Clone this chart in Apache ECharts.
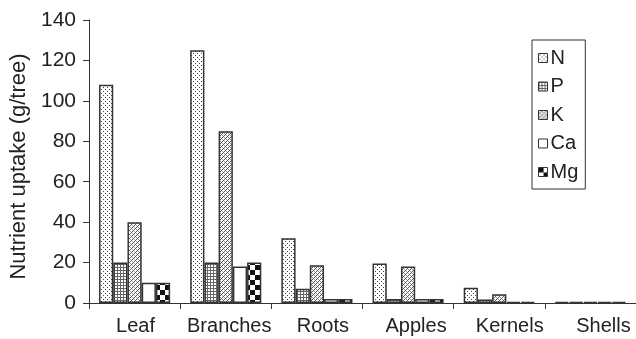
<!DOCTYPE html>
<html>
<head>
<meta charset="utf-8">
<script src="https://cdn.jsdelivr.net/npm/echarts@6/dist/echarts.min.js"></script>
<style>
  html, body { margin: 0; padding: 0; background: #fff; }
  #chart { width: 636px; height: 339px; }
</style>
</head>
<body>
<div id="chart"></div>
<script>
// Nutrient uptake per tree, by organ
const categories = ['Leaf', 'Branches', 'Roots', 'Apples', 'Kernels', 'Shells'];
const nutrients = ['N', 'P', 'K', 'Ca', 'Mg'];
const valuesN  = [108, 125, 32, 19.5, 7.6, 0.5];
const valuesP  = [20, 20, 7, 2, 1.7, 0.5];
const valuesK  = [40, 85, 18.7, 18, 4.3, 0.5];
const valuesCa = [10, 18, 2, 2, 0.5, 0.5];
const valuesMg = [10, 20, 2, 2, 0.5, 0.5];
const yTicks = [0, 20, 40, 60, 80, 100, 120, 140];

// Monochrome fill patterns drawn on small tiles
function tile(w, h, draw) {
  const c = document.createElement('canvas');
  c.width = w; c.height = h;
  const g = c.getContext('2d');
  g.fillStyle = '#fff';
  g.fillRect(0, 0, w, h);
  draw(g);
  return { image: c, repeat: 'repeat' };
}
const fillN = tile(4, 4, g => {
  g.fillStyle = '#444';
  g.fillRect(1, 1, 1, 1);
  g.fillRect(3, 3, 1, 1);
});
const fillP = tile(3, 3, g => {
  g.fillStyle = '#666';
  g.fillRect(0, 0, 3, 1);
  g.fillRect(0, 0, 1, 3);
});
const fillK = tile(4, 4, g => {
  g.fillStyle = '#555';
  for (let i = 0; i < 4; i++) {
    g.fillRect(i, 3 - i, 1, 1);
  }
  g.fillStyle = '#999';
  g.fillRect(0, 1, 1, 1);
  g.fillRect(2, 3, 1, 1);
});
const fillCa = '#ffffff';
const fillMg = tile(10, 10, g => {
  g.fillStyle = '#111';
  g.fillRect(0, 0, 5, 5);
  g.fillRect(5, 5, 5, 5);
});

const seriesData = [valuesN, valuesP, valuesK, valuesCa, valuesMg];
const fills = [fillN, fillP, fillK, fillCa, fillMg];

const chart = echarts.init(document.getElementById('chart'), null, { renderer: 'canvas' });
const font = 'Liberation Sans, Arial, sans-serif';

// Category labels sit on a slightly wider pitch than the ticks;
// each one is nudged right a little more than the previous one.
const labelRich = {};
categories.forEach((c, i) => {
  const shift = 1 + 2.4 * i;
  labelRich['c' + i] = {
    fontSize: 20, color: '#222', fontFamily: font,
    padding: [0, 0, 0, Math.round(shift * 2)]
  };
});

chart.setOption({
  animation: false,
  backgroundColor: '#fff',
  textStyle: { fontFamily: font },
  grid: { left: 89, top: 20, width: 554, height: 283, containLabel: false },
  legend: {
    orient: 'vertical',
    left: 532,
    top: 40,
    padding: [8, 7, 7, 6],
    borderColor: '#333',
    borderWidth: 1,
    itemWidth: 9,
    itemHeight: 9,
    itemGap: 8.5,
    icon: 'rect',
    textStyle: { fontSize: 20, color: '#222', fontFamily: font, padding: [0, 0, 0, -2] },
    itemStyle: { borderColor: '#333', borderWidth: 1 },
    data: nutrients
  },
  xAxis: {
    type: 'category',
    data: categories,
    axisLine: { lineStyle: { color: '#333', width: 1 } },
    axisTick: { show: true, length: 6, lineStyle: { color: '#333' } },
    axisLabel: {
      fontSize: 20, color: '#222', margin: 13, fontFamily: font, interval: 0,
      formatter: (value, index) => '{c' + index + '|' + value + '}',
      rich: labelRich
    }
  },
  yAxis: {
    type: 'value',
    min: yTicks[0],
    max: yTicks[yTicks.length - 1],
    interval: yTicks[1] - yTicks[0],
    name: 'Nutrient uptake (g/tree)',
    nameLocation: 'middle',
    nameGap: 58,
    nameTextStyle: { fontSize: 22, color: '#222', fontFamily: font, padding: [0, 10, 0, 0] },
    axisLine: { show: true, lineStyle: { color: '#333', width: 1 } },
    axisTick: { show: true, length: 6, lineStyle: { color: '#333' } },
    axisLabel: { fontSize: 21, color: '#222', margin: 13, fontFamily: font },
    splitLine: { show: false }
  },
  series: nutrients.map((name, i) => ({
    name,
    type: 'bar',
    data: seriesData[i],
    barGap: '0%',
    barCategoryGap: '22%',
    itemStyle: { color: fills[i], borderColor: '#333', borderWidth: 1.5 }
  }))
});
</script>
</body>
</html>
